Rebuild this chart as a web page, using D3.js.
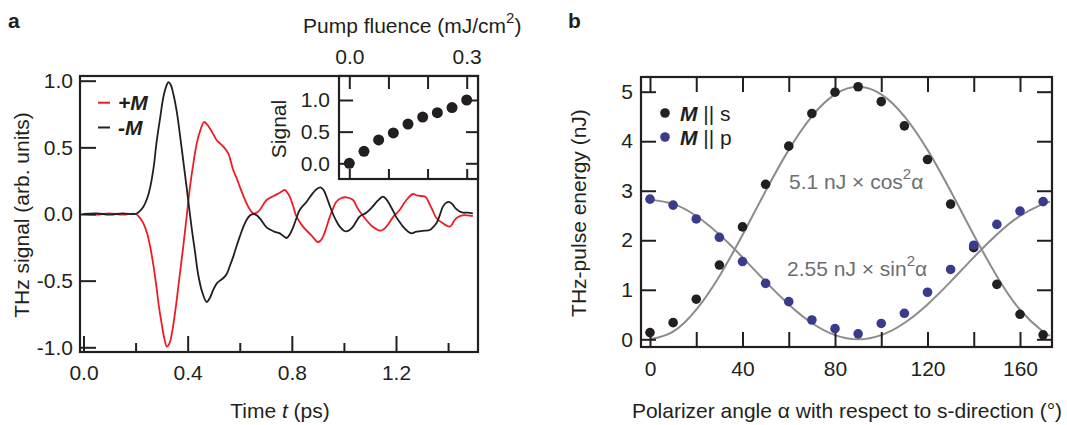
<!DOCTYPE html>
<html><head><meta charset="utf-8">
<script src="https://cdn.jsdelivr.net/npm/d3@7"></script>
<style>body{margin:0;background:#fff}</style>
</head><body>
<svg id="c" width="1067" height="425"></svg>
<script>
// ---------- DATA ----------
// Panel a: THz waveforms
const tBlack = [0,0.05,0.1,0.15,0.2,0.215,0.23,0.245,0.256,0.27,0.28,0.295,0.307,0.32,0.326,0.335,0.345,0.358,0.37,0.383,0.396,0.415,0.428,0.44,0.455,0.473,0.485,0.498,0.512,0.524,0.537,0.55,0.562,0.575,0.588,0.6,0.613,0.626,0.64,0.652,0.665,0.68,0.703,0.73,0.754,0.78,0.793,0.805,0.818,0.83,0.856,0.88,0.897,0.91,0.922,0.933,0.946,0.958,0.97,0.984,1.0,1.01,1.022,1.035,1.048,1.06,1.086,1.11,1.13,1.15,1.163,1.176,1.19,1.2,1.214,1.227,1.245,1.26,1.275,1.29,1.31,1.33,1.342,1.355,1.368,1.38,1.393,1.405,1.418,1.43,1.443,1.457,1.475,1.495];
const vBlack = [0,0.005,-0.005,0.005,0,0.02,0.055,0.12,0.2,0.36,0.53,0.73,0.88,0.97,0.99,0.97,0.9,0.77,0.6,0.4,0.2,-0.1,-0.28,-0.45,-0.58,-0.66,-0.63,-0.57,-0.52,-0.5,-0.48,-0.45,-0.39,-0.32,-0.24,-0.17,-0.1,-0.045,-0.01,0,-0.01,-0.04,-0.1,-0.13,-0.145,-0.18,-0.15,-0.1,-0.03,0.03,0.09,0.155,0.19,0.2,0.18,0.13,0.06,0,-0.05,-0.095,-0.125,-0.13,-0.12,-0.095,-0.055,-0.02,0.01,0.055,0.1,0.13,0.11,0.07,0.02,-0.02,-0.06,-0.095,-0.13,-0.145,-0.135,-0.13,-0.125,-0.12,-0.1,-0.07,-0.01,0.055,0.085,0.09,0.07,0.04,0.02,0.01,0.01,0.005];
const tRed = [0,0.05,0.1,0.15,0.2,0.215,0.23,0.245,0.256,0.268,0.28,0.29,0.3,0.31,0.32,0.33,0.339,0.348,0.358,0.37,0.383,0.396,0.409,0.422,0.435,0.449,0.463,0.475,0.486,0.498,0.511,0.524,0.537,0.556,0.565,0.575,0.588,0.6,0.613,0.626,0.64,0.652,0.665,0.677,0.69,0.703,0.73,0.754,0.773,0.783,0.792,0.805,0.818,0.843,0.875,0.9,0.91,0.92,0.933,0.946,0.958,0.97,0.99,1.01,1.035,1.048,1.06,1.086,1.11,1.14,1.163,1.19,1.214,1.24,1.265,1.28,1.297,1.313,1.325,1.34,1.355,1.38,1.405,1.415,1.425,1.44,1.457,1.475,1.495];
const vRed = [0,-0.005,0.005,-0.005,0,-0.025,-0.07,-0.15,-0.245,-0.38,-0.545,-0.7,-0.82,-0.93,-0.995,-0.97,-0.9,-0.79,-0.645,-0.45,-0.245,-0.02,0.205,0.38,0.53,0.63,0.69,0.67,0.64,0.6,0.555,0.53,0.505,0.455,0.4,0.33,0.27,0.205,0.14,0.08,0.03,0.005,0.01,0.03,0.07,0.105,0.135,0.16,0.18,0.16,0.13,0.06,-0.02,-0.095,-0.16,-0.21,-0.2,-0.17,-0.1,-0.02,0.04,0.09,0.12,0.125,0.105,0.06,0.02,-0.045,-0.095,-0.125,-0.095,-0.02,0.03,0.105,0.15,0.14,0.135,0.13,0.09,0.03,-0.03,-0.07,-0.095,-0.08,-0.045,-0.02,-0.01,-0.01,-0.015];
const timeTicks = [0, 0.4, 0.8, 1.2];
const timeTickLabels = ["0.0", "0.4", "0.8", "1.2"];
const timeMinorTicks = [0.2, 0.6, 1.0, 1.4];
const sigTicks = [-1, -0.5, 0, 0.5, 1];
const sigTickLabels = ["-1.0", "-0.5", "0.0", "0.5", "1.0"];
// Inset: signal vs pump fluence
const fluence = [0, 0.0375, 0.075, 0.1125, 0.15, 0.1875, 0.225, 0.2625, 0.3];
const insetSignal = [0.0, 0.19, 0.37, 0.48, 0.62, 0.73, 0.80, 0.88, 1.0];
const fluenceTicks = [0, 0.1, 0.2, 0.3];
const fluenceTickLabels = ["0.0", "", "", "0.3"];
const insetSigTicks = [0, 0.5, 1.0];
const insetSigTickLabels = ["0.0", "0.5", "1.0"];
// Panel b: THz pulse energy vs polarizer angle
const angles = [0,10,20,30,40,50,60,70,80,90,100,110,120,130,140,150,160,170];
const energyS = [0.135,0.336,0.81,1.50,2.27,3.13,3.90,4.56,4.99,5.10,4.80,4.31,3.63,2.73,1.85,1.11,0.505,0.09];
const energyP = [2.83,2.71,2.43,2.06,1.57,1.13,0.76,0.39,0.215,0.11,0.32,0.525,0.95,1.41,1.90,2.32,2.59,2.78];
const fitAngles = [0,10,20,30,40,50,60,70,80,90,100,110,120,130,140,150,160,170,173];
const fitS = [0,0.154,0.597,1.275,2.107,2.993,3.825,4.503,4.946,5.1,4.946,4.503,3.825,2.993,2.107,1.275,0.597,0.154,0.077];
const fitP = [2.82,2.735,2.49,2.115,1.655,1.165,0.705,0.33,0.085,0,0.085,0.33,0.705,1.165,1.655,2.115,2.49,2.735,2.78];
const angleTicks = [0,20,40,60,80,100,120,140,160];
const angleTickLabels = ["0","","40","","80","","120","","160"];
const energyTicks = [0,1,2,3,4,5];

// ---------- STYLE ----------
const ink = "#231f20", red = "#ed1c24", blue = "#3b3b8c", gray = "#8c8c8c", textGray = "#6d6e71";
const FONT = "'Liberation Sans', Arial, Helvetica, sans-serif";
const FS = 21, SUP = 15;
const svg = d3.select("#c");

function styleAxis(g) {
  g.select(".domain").remove();
  g.selectAll(".tick line").attr("stroke", ink).attr("stroke-width", 2);
  g.selectAll(".tick text").attr("font-size", FS).attr("fill", ink).attr("font-family", FONT);
}
function txt(x, y, s, opts) {
  const t = svg.append("text").attr("x", x).attr("y", y).text(s)
    .attr("font-family", FONT).attr("font-size", FS).attr("fill", ink);
  if (opts) for (const k in opts) t.attr(k, opts[k]);
  return t;
}

// ---------- PANEL A ----------
const xA = d3.scaleLinear().domain([0, 1.2]).range([83.5, 396]);
const yA = d3.scaleLinear().domain([-1, 1]).range([347.3, 80.7]);
const fA = {x0: 80, x1: 478, y0: 76, y1: 352};

const line = d3.line().curve(d3.curveCatmullRom.alpha(0.5));
svg.append("path").attr("d", line(tRed.map((t, i) => [xA(t), yA(vRed[i])])))
  .attr("fill", "none").attr("stroke", red).attr("stroke-width", 1.8);
svg.append("path").attr("d", line(tBlack.map((t, i) => [xA(t), yA(vBlack[i])])))
  .attr("fill", "none").attr("stroke", ink).attr("stroke-width", 1.8);

svg.append("g").attr("transform", `translate(0,${fA.y1})`)
  .call(d3.axisBottom(xA).tickValues(timeTicks).tickSize(-16).tickPadding(13).tickFormat((d, i) => timeTickLabels[i]))
  .call(styleAxis);
svg.append("g").attr("transform", `translate(0,${fA.y1})`)
  .call(d3.axisBottom(xA).tickValues(timeMinorTicks).tickSize(-9).tickFormat(""))
  .call(styleAxis);
svg.append("g").attr("transform", `translate(${fA.x0},0)`)
  .call(d3.axisLeft(yA).tickValues(sigTicks).tickSize(-16).tickPadding(7).tickFormat((d, i) => sigTickLabels[i]))
  .call(styleAxis);
svg.append("rect").attr("x", fA.x0).attr("y", fA.y0).attr("width", fA.x1 - fA.x0).attr("height", fA.y1 - fA.y0)
  .attr("fill", "none").attr("stroke", ink).attr("stroke-width", 2.2);

// legend a
svg.append("line").attr("x1", 98).attr("x2", 110).attr("y1", 102.7).attr("y2", 102.7).attr("stroke", red).attr("stroke-width", 2);
svg.append("line").attr("x1", 98).attr("x2", 110).attr("y1", 127.5).attr("y2", 127.5).attr("stroke", ink).attr("stroke-width", 2);
txt(118, 110, "+M", {"font-weight": "bold", "font-style": "italic"});
txt(118, 135, "-M", {"font-weight": "bold", "font-style": "italic"});

// axis titles a
txt(22, 215, "THz signal (arb. units)", {"text-anchor": "middle", transform: "rotate(-90,22,215)", dy: "0.35em"});
const tt = txt(280, 418, "Time ", {"text-anchor": "middle"});
tt.append("tspan").attr("font-style", "italic").text("t");
tt.append("tspan").text(" (ps)");
txt(8, 28, "a", {"font-weight": "bold"});

// ---------- INSET ----------
const xI = d3.scaleLinear().domain([0, 0.3]).range([349.3, 466.7]);
const yI = d3.scaleLinear().domain([0, 1]).range([163.3, 100]);
const fI = {x0: 339, x1: 478, y0: 76, y1: 179};
svg.append("rect").attr("x", fI.x0).attr("y", fI.y0).attr("width", fI.x1 - fI.x0).attr("height", fI.y1 - fI.y0)
  .attr("fill", "#fff").attr("stroke", "none");
svg.append("g").attr("transform", `translate(0,${fI.y0})`)
  .call(d3.axisTop(xI).tickValues(fluenceTicks).tickSize(-13).tickPadding(12).tickFormat((d, i) => fluenceTickLabels[i]))
  .call(styleAxis);
svg.append("g").attr("transform", `translate(0,${fI.y1})`)
  .call(d3.axisBottom(xI).tickValues(fluenceTicks).tickSize(-10).tickFormat(""))
  .call(styleAxis);
svg.append("g").attr("transform", `translate(${fI.x0},0)`)
  .call(d3.axisLeft(yI).tickValues(insetSigTicks).tickSize(-14).tickPadding(9).tickFormat((d, i) => insetSigTickLabels[i]))
  .call(styleAxis);
svg.append("g").attr("transform", `translate(${fI.x1},0)`)
  .call(d3.axisRight(yI).tickValues(insetSigTicks).tickSize(-12).tickFormat(""))
  .call(styleAxis);
svg.append("rect").attr("x", fI.x0).attr("y", fI.y0).attr("width", fI.x1 - fI.x0).attr("height", fI.y1 - fI.y0)
  .attr("fill", "none").attr("stroke", ink).attr("stroke-width", 2.2);
svg.append("g").selectAll("circle").data(fluence).join("circle")
  .attr("cx", d => xI(d)).attr("cy", (d, i) => yI(insetSignal[i])).attr("r", 5.5).attr("fill", ink);
txt(279, 129, "Signal", {"text-anchor": "middle", transform: "rotate(-90,279,129)", dy: "0.35em"});
const pf = txt(303, 33, "Pump fluence (mJ/cm");
pf.append("tspan").attr("font-size", SUP).attr("dy", -10).text("2");
pf.append("tspan").attr("dy", 10).text(")");

// ---------- PANEL B ----------
const xB = d3.scaleLinear().domain([0, 160]).range([650, 1020]);
const yB = d3.scaleLinear().domain([0, 5]).range([339.3, 91.7]);
const fB = {x0: 641, x1: 1052, y0: 77, y1: 347};

const fitLine = d3.line().curve(d3.curveNatural);
svg.append("path").attr("d", fitLine(fitAngles.map((a, i) => [xB(a), yB(fitS[i])])))
  .attr("fill", "none").attr("stroke", gray).attr("stroke-width", 2);
svg.append("path").attr("d", fitLine(fitAngles.map((a, i) => [xB(a), yB(fitP[i])])))
  .attr("fill", "none").attr("stroke", gray).attr("stroke-width", 2);

svg.append("g").attr("transform", `translate(0,${fB.y1})`)
  .call(d3.axisBottom(xB).tickValues(angleTicks).tickSize(-15).tickPadding(14).tickFormat((d, i) => angleTickLabels[i]))
  .call(styleAxis);
svg.append("g").attr("transform", `translate(0,${fB.y0})`)
  .call(d3.axisTop(xB).tickValues(angleTicks).tickSize(-15).tickFormat(""))
  .call(styleAxis);
svg.append("g").attr("transform", `translate(${fB.x0},0)`)
  .call(d3.axisLeft(yB).tickValues(energyTicks).tickSize(-15).tickPadding(8).tickFormat(d3.format("d")))
  .call(styleAxis);
svg.append("g").attr("transform", `translate(${fB.x1},0)`)
  .call(d3.axisRight(yB).tickValues(energyTicks).tickSize(-15).tickFormat(""))
  .call(styleAxis);
svg.append("rect").attr("x", fB.x0).attr("y", fB.y0).attr("width", fB.x1 - fB.x0).attr("height", fB.y1 - fB.y0)
  .attr("fill", "none").attr("stroke", ink).attr("stroke-width", 2.2);

svg.append("g").selectAll("circle").data(angles).join("circle")
  .attr("cx", d => xB(d)).attr("cy", (d, i) => yB(energyS[i])).attr("r", 4.8).attr("fill", ink);
svg.append("g").selectAll("circle").data(angles).join("circle")
  .attr("cx", d => xB(d)).attr("cy", (d, i) => yB(energyP[i])).attr("r", 4.8).attr("fill", blue);

// annotations
const a1 = txt(789, 189, "5.1 nJ × cos", {fill: textGray});
a1.append("tspan").attr("font-size", SUP).attr("dy", -10).text("2");
a1.append("tspan").attr("dy", 10).text("α");
const a2 = txt(787, 276, "2.55 nJ × sin", {fill: textGray});
a2.append("tspan").attr("font-size", SUP).attr("dy", -10).text("2");
a2.append("tspan").attr("dy", 10).text("α");

// legend b
svg.append("circle").attr("cx", 665).attr("cy", 113).attr("r", 4.8).attr("fill", ink);
svg.append("circle").attr("cx", 665).attr("cy", 137).attr("r", 4.8).attr("fill", blue);
const l1 = txt(680, 120.5, "M", {"font-weight": "bold", "font-style": "italic"});
l1.append("tspan").attr("font-weight", "normal").attr("font-style", "normal").text(" || s");
const l2 = txt(680, 144.5, "M", {"font-weight": "bold", "font-style": "italic"});
l2.append("tspan").attr("font-weight", "normal").attr("font-style", "normal").text(" || p");

// axis titles b
txt(579, 213, "THz-pulse energy (nJ)", {"text-anchor": "middle", transform: "rotate(-90,579,213)", dy: "0.35em"});
txt(847, 418, "Polarizer angle α with respect to s-direction (°)", {"text-anchor": "middle"});
txt(568, 28, "b", {"font-weight": "bold"});
</script>
</body></html>
